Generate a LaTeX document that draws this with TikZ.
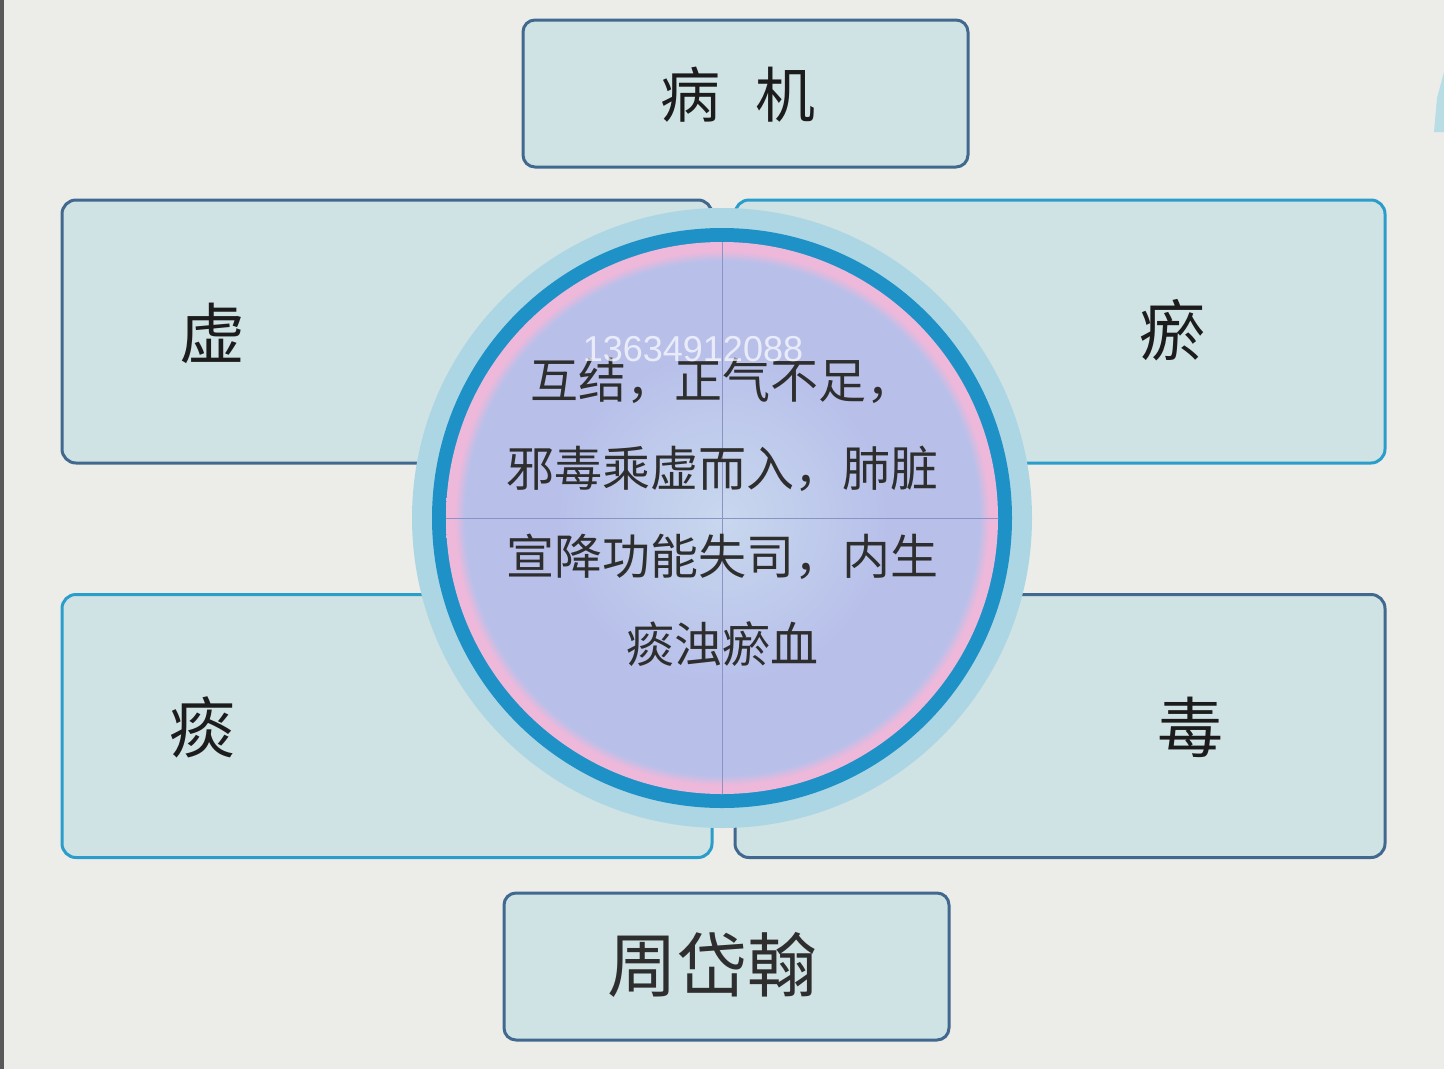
\documentclass[tikz,border=0pt]{standalone}
\usepackage{fontspec}
\newfontfamily\cjk{Noto Sans CJK SC}
\newfontfamily\tagfont{Liberation Sans}
\definecolor{paper}{HTML}{ECEDE8}
\definecolor{boxfill}{HTML}{CFE2E4}
\definecolor{edgedark}{HTML}{41688F}
\definecolor{edgecyan}{HTML}{2A9DCB}
\definecolor{halo}{HTML}{ADD6E5}
\definecolor{ringblue}{HTML}{1E92C6}
\definecolor{lensin}{HTML}{C8D8EE}
\definecolor{lensmid}{HTML}{B8C0EA}
\definecolor{lenspink}{HTML}{EDB8DA}
\definecolor{ink}{HTML}{1C1C1C}
\definecolor{inkgray}{HTML}{2E2E2E}
\definecolor{crossline}{HTML}{8C92C6}
\definecolor{sliver}{HTML}{B8DDE4}
\pgfdeclareradialshading{lens}{\pgfpoint{0bp}{0bp}}{color(0bp)=(lensin); color(15bp)=(lensmid); color(23.3bp)=(lensmid); color(24.2bp)=(lenspink); color(25bp)=(lenspink); color(50bp)=(lenspink)}
\newcommand\bjbigfont{\cjk\fontsize{66}{70}\selectfont}
\newcommand\bjlensfont{\cjk\fontsize{48}{88}\selectfont}
\newcommand\bjquad[5]{
  \node[quadbox, draw=#3] (#1box) at (#2) {};
  \node[bigchar] (#1) at (#4) {#5};
}
\tikzset{
  quadbox/.style={line width=3pt, rounded corners=14pt, fill=boxfill, minimum width=650pt, minimum height=263pt, inner sep=0pt},
  titlebox/.style={draw=edgedark, line width=3pt, rounded corners=12pt, fill=boxfill, minimum width=445pt, minimum height=147pt, inner sep=0pt},
  bigchar/.style={font=\bjbigfont, text=ink},
  disc/.style={circle, inner sep=0pt}
}
\begin{document}
\begin{tikzpicture}[x=1pt,y=-1pt]
  \fill[paper] (0,0) rectangle (1444,1069);
  \useasboundingbox (0,0) rectangle (1444,1069);
  \fill[black!65] (0,0) rectangle (4,1069);
  \fill[sliver] (1444,72) -- (1437,98) -- (1434,132) -- (1444,132) -- cycle;

  \node[titlebox] (bingjibox) at (745.5,93.5) {};
  \node[font=\cjk\fontsize{60}{64}\selectfont, text=ink] (bingji) at (738,95) {病\hspace{35pt}机};
  \node[titlebox] (zhoubox) at (726.5,966.5) {};
  \node[font=\cjk\fontsize{70}{74}\selectfont, text=inkgray] (zhou) at (712,965) {周岱翰};

  \bjquad{xu}{387,331.5}{edgedark}{212,333}{虚}
  \bjquad{yu}{1060,331.5}{edgecyan}{1172,330}{瘀}
  \bjquad{tan}{387,726}{edgecyan}{202,727}{痰}
  \bjquad{du}{1060,726}{edgedark}{1190,727}{毒}

  \node[disc, fill=halo, minimum size=620pt] (halo) at (722,518) {};
  \node[disc, fill=ringblue, minimum size=580pt] (ring) at (722,518) {};
  \node[disc, shading=lens, minimum size=552pt] (heart) at (722,518) {};
  \draw[crossline, line width=1pt] (heart.north) -- (heart.south);
  \draw[crossline, line width=1pt] (heart.west) -- (heart.east);

  \node[font=\bjlensfont, text=inkgray, align=center] (blurb) at (722,512)
    {互结，正气不足，\\邪毒乘虚而入，肺脏\\宣降功能失司，内生\\痰浊瘀血};
  \node[font=\tagfont\fontsize{36}{40}\selectfont, text=white, opacity=0.7] (tag) at (693,349) {13634912088};
\end{tikzpicture}
\end{document}
